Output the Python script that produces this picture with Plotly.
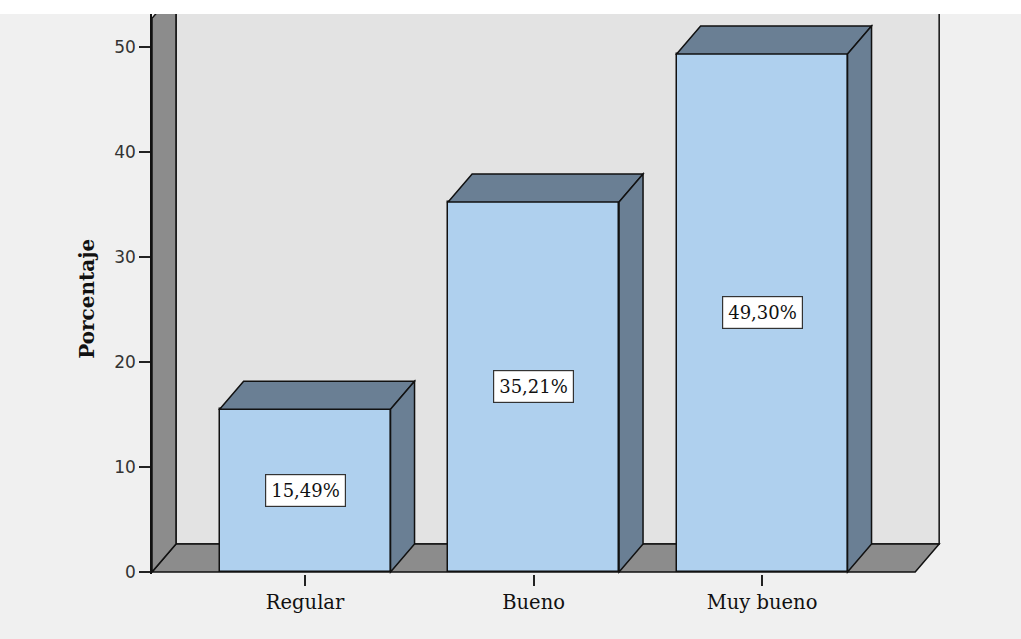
import plotly.graph_objects as go

# Frequency chart data
categories = ["Regular", "Bueno", "Muy bueno"]
percent = [15.49, 35.21, 49.30]
value_labels = ["15,49%", "35,21%", "49,30%"]
y_ticks = [0, 10, 20, 30, 40, 50]
y_title = "Porcentaje"

# Styling / geometry
FRONT = "#afd0ee"
SHADE = "#6a7f94"
WALL_GREY = "#8c8c8c"
BACK_WALL = "#e3e3e3"
BG = "#f0f0f0"
EDGE = "#111111"
SERIF = "DejaVu Serif"

x_pos = list(range(len(categories)))
bar_w = 0.748          # bar width in category units
ddx = 0.105            # depth offset along x (category units)
ddy = 2.665            # depth offset along y (percent units)
x_left, x_right = -0.67, 2.67
wall_top = 52.7

fig = go.Figure()

fig.add_bar(
    x=x_pos, y=percent, width=bar_w,
    marker=dict(color=FRONT, line=dict(color=EDGE, width=1.5)),
    hoverinfo="skip",
)

shapes = []
# back wall
shapes.append(dict(type="rect", xref="x", yref="y",
                   x0=x_left + ddx, x1=x_right + ddx, y0=ddy, y1=wall_top + ddy + 5,
                   fillcolor=BACK_WALL, line=dict(color=EDGE, width=1.5), layer="below"))
# floor
shapes.append(dict(type="path", xref="x", yref="y",
                   path=f"M {x_left},0 L {x_left + ddx},{ddy} L {x_right + ddx},{ddy} L {x_right},0 Z",
                   fillcolor=WALL_GREY, line=dict(color=EDGE, width=1.5), layer="below"))
# left side wall
shapes.append(dict(type="path", xref="x", yref="y",
                   path=f"M {x_left},0 L {x_left + ddx},{ddy} L {x_left + ddx},{wall_top + ddy} "
                        f"L {x_left},{wall_top} Z",
                   fillcolor=WALL_GREY, line=dict(color=EDGE, width=1.5), layer="below"))

# top and side faces of each bar
for xc, v in zip(x_pos, percent):
    l, r = xc - bar_w / 2, xc + bar_w / 2
    shapes.append(dict(type="path", xref="x", yref="y",
                       path=f"M {l},{v} L {l + ddx},{v + ddy} L {r + ddx},{v + ddy} L {r},{v} Z",
                       fillcolor=SHADE, line=dict(color=EDGE, width=1.5), layer="above"))
    shapes.append(dict(type="path", xref="x", yref="y",
                       path=f"M {r},0 L {r + ddx},{ddy} L {r + ddx},{v + ddy} L {r},{v} Z",
                       fillcolor=SHADE, line=dict(color=EDGE, width=1.5), layer="above"))

# white band along the top edge
shapes.append(dict(type="rect", xref="paper", yref="paper",
                   x0=-0.3, x1=1.3, y0=1.0, y1=1.2,
                   fillcolor="white", line=dict(width=0), layer="above"))

annotations = []
for xc, v, txt in zip(x_pos, percent, value_labels):
    annotations.append(dict(
        x=xc, y=v / 2, xref="x", yref="y", text=txt, showarrow=False,
        font=dict(family=SERIF, size=18, color="#111111"),
        bgcolor="white", bordercolor="#333333", borderwidth=1.2, borderpad=5,
    ))
annotations.append(dict(
    x=-65 / 789, y=26.0, xref="paper", yref="y", text=f"<b>{y_title}</b>",
    showarrow=False, textangle=-90, xanchor="center", yanchor="middle",
    font=dict(family=SERIF, size=20, color="#111111"),
))

fig.update_layout(
    width=1021, height=639,
    margin=dict(l=152, r=80, t=14, b=65),
    paper_bgcolor=BG, plot_bgcolor=BG,
    showlegend=False, bargap=0,
    shapes=shapes, annotations=annotations,
    xaxis=dict(
        range=[-0.67, 2.783], tickvals=x_pos, ticktext=categories,
        ticks="outside", ticklen=11, tickwidth=1.5, tickcolor="#222222",
        showgrid=False, zeroline=False, showline=False,
        tickfont=dict(family=SERIF, size=19.5, color="#111111"),
        fixedrange=True,
    ),
    yaxis=dict(
        range=[-0.2, 53.11], tickvals=y_ticks,
        ticks="outside", ticklen=11, tickwidth=1.5, tickcolor="#222222",
        showgrid=False, zeroline=False, showline=True, linecolor=EDGE, linewidth=1.5,
        tickfont=dict(family="DejaVu Sans", size=17, color="#333333"),
        fixedrange=True,
    ),
)

fig.write_html("out.html")
